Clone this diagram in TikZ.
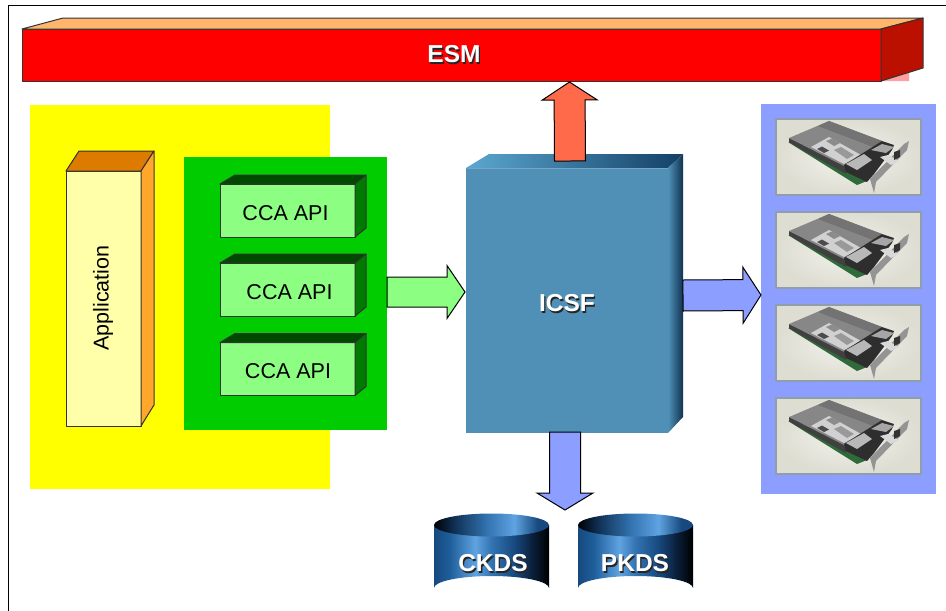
\documentclass[tikz,border=0pt]{standalone}
\usepackage{fontspec}
\setmainfont{Liberation Sans}
\usetikzlibrary{calc}
\definecolor{cdark}{HTML}{0A1E38}
\definecolor{cmid}{HTML}{1F5F9C}
\definecolor{clight}{HTML}{5FA3E0}
\definecolor{cnavy}{HTML}{17497F}
\pgfdeclarehorizontalshading{cylbody}{100bp}{color(0bp)=(cnavy);color(25bp)=(cnavy);color(32bp)=(cmid);color(43bp)=(clight);color(50bp)=(cmid!70!clight);color(60bp)=(cnavy);color(68bp)=(cdark);color(75bp)=(black);color(100bp)=(black)}
\pgfdeclarehorizontalshading{cyltop}{100bp}{color(0bp)=(black);color(25bp)=(black);color(34bp)=(cdark!70!cmid);color(48bp)=(cmid!70!clight);color(60bp)=(clight);color(70bp)=(cnavy);color(75bp)=(cnavy);color(100bp)=(cnavy)}
\definecolor{topL}{HTML}{5BA8D0}
\definecolor{topD}{HTML}{143F66}
\definecolor{icsfF}{HTML}{5090B6}
\definecolor{pureY}{HTML}{FFFF00}
\definecolor{pureR}{HTML}{FF0000}
\definecolor{pureG}{HTML}{00CC00}
\definecolor{esmT}{HTML}{FFB56B}
\definecolor{esmS}{HTML}{BB1000}
\definecolor{esmSh}{HTML}{FFA0A0}
\definecolor{appF}{HTML}{FFFFAA}
\definecolor{appT}{HTML}{DD7B00}
\definecolor{appS}{HTML}{FFA62B}
\definecolor{ccaF}{HTML}{8CFF82}
\definecolor{ccaT}{HTML}{004A00}
\definecolor{ccaS}{HTML}{007A00}
\definecolor{frameC}{HTML}{8F9EAA}
\definecolor{cardBg}{HTML}{DEDDD2}
\definecolor{cardLt}{HTML}{F3F3EE}
\definecolor{panelB}{HTML}{8C9EFF}
\definecolor{upA}{HTML}{FF6B4A}
\definecolor{grnA}{HTML}{8CFF82}
\definecolor{pcbG}{HTML}{2F6B3A}
\tikzset{
  base/.style={inner sep=0pt,outer sep=0pt,anchor=north west},
  face/.style={draw=black!80,line width=1pt,line join=round},
  ccaface/.style={base,face,fill=ccaF,minimum width=135pt,minimum height=53pt},
  ccatxt/.style={inner sep=0pt,font=\fontsize{21.5}{24}\selectfont},
  bigtxt/.style={inner sep=0pt,font=\fontsize{24.5}{28}\selectfont\bfseries},
  blockarrowline/.style={draw=black,line width=1pt,line join=miter},
  frame/.style={draw=frameC,line width=2pt},
}
% text with a soft dark shadow, one node
\newcommand{\shtext}[1]{\rlap{\kern1.3pt\raisebox{-1.3pt}{\color{black!85}#1}}{\color{white}#1}}
% block arrow between two named points: fill, half shaft, half head, head length
\newcommand{\blockarrow}[6]{%
  \coordinate (hb) at ($(#2)!#6pt!(#1)$);
  \filldraw[blockarrowline,fill=#3]
    ($(#1)!#4pt!90:(#2)$) -- ($(hb)!#4pt!90:(#2)$) -- ($(hb)!#5pt!90:(#2)$) -- (#2)
    -- ($(hb)!#5pt!-90:(#2)$) -- ($(hb)!#4pt!-90:(#2)$) -- ($(#1)!#4pt!-90:(#2)$) -- cycle;}
\newcommand{\cardimg}[3]{%
  \begin{scope}[shift={(#2,#3)}]
    \shade[inner color=cardLt,outer color=cardBg] (0,0) rectangle (145,76);
    % pcb
    \fill[pcbG] (12,23) -- (81,66) -- (91,62) -- (66,50) -- cycle;
    % cover side
    \fill[black!75] (13,19) -- (13,23.5) -- (70,55) -- (72,46) -- cycle;
    % cover top
    \fill[black!47] (13,19) -- (53,2) -- (106,22) -- (68,47) -- cycle;
    \fill[black!55] (53,2) -- (106,22) -- (97,28) -- (42,7) -- cycle;
    % label
    \fill[black!18] (35,28) -- (53,18) -- (85,36) -- (68,45) -- cycle;
    \fill[black!70] (41,30) -- (46,27.5) -- (53,31.5) -- (48,34) -- cycle;
    \fill[black!45] (50,22) -- (56,19.5) -- (64,24) -- (58,27) -- cycle;
    \fill[black!40] (58,31) -- (65,28) -- (78,36) -- (71,40) -- cycle;
    % connector block
    \fill[black!82] (68,46) -- (106,22) -- (118,26) -- (116,31) -- (98,55) -- (91,63) -- (70,53) -- cycle;
    \fill[black!28] (70,45) -- (88,35) -- (96,41) -- (81,51) -- cycle;
    \fill[black!35] (95,31) -- (106,25) -- (118,28) -- (110,34) -- cycle;
    % bracket
    \fill[black!42] (133,22) -- (128,25) -- (94,60) -- (98,74) -- (100,63) -- (131,31) -- cycle;
    \fill[black!15] (104,38) -- (112,36) -- (123,42) -- (115,46) -- cycle;
    \fill[black!80] (118,33) -- (124,31) -- (124,38) -- (118,41) -- cycle;
  \end{scope}
  \node[base,frame,minimum width=145pt,minimum height=76pt] (#1) at (#2,#3) {};}
\begin{document}
\begin{tikzpicture}[x=1pt,y=-1pt]
\useasboundingbox (0,0) rectangle (946,611);
\fill[white] (0,0) rectangle (946,611);
% slide border
\coordinate (fa) at (8,611); \coordinate (fb) at (8,5); \coordinate (fc) at (946,5);
\draw[black,line width=.8pt] (fa) -- (fb) -- (fc);

% ESM
\fill[esmSh] (881,81) -- (909,81) -- (909,72) -- cycle;
\node[base,face,fill=pureR,minimum width=859pt,minimum height=52pt] (esm) at (22,29) {};
\filldraw[face,fill=esmT] (esm.north west) -- (63,18) -- (923,18) -- (esm.north east) -- cycle;
\filldraw[face,fill=esmS] (esm.north east) -- (923,18) -- (923,68) -- (esm.south east) -- cycle;
\node[bigtxt] (esmt) at (454,55) {\shtext{ESM}};

% Panels
\node[base,fill=pureY,minimum width=300pt,minimum height=384pt] (yellowp) at (30,105) {};
\node[base,fill=pureG,minimum width=203pt,minimum height=273pt] (greenp) at (184,157) {};
\node[base,fill=panelB,minimum width=175pt,minimum height=390pt] (cardp) at (761,104) {};

% Application
\node[base,face,fill=appF,minimum width=75pt,minimum height=255pt] (app) at (66,171) {};
\filldraw[face,fill=appT] (app.north west) -- (79,151) -- (154,151) -- (app.north east) -- cycle;
\filldraw[face,fill=appS] (app.north east) -- (154,151) -- (154,405) -- (app.south east) -- cycle;
\node[ccatxt,rotate=90] (appt) at (103,298) {Application};

% CCA boxes
\foreach \n/\yy/\tx in {cca1/184/285.5,cca2/263/289.5,cca3/342.5/288}{
  \node[ccaface] (\n) at (220,\yy) {};
  \filldraw[face,fill=ccaT] (\n.north west) -- ++(15,-9) -- ++(131,0) -- (\n.north east) -- cycle;
  \filldraw[face,fill=ccaS] (\n.north east) -- ++(11,-9) -- ++(0,53) -- (\n.south east) -- cycle;
  \node[ccatxt] (\n t) at (\tx,\yy+29) {CCA API};
}

% ICSF
\node[base,fill=icsfF,minimum width=202pt,minimum height=265pt] (icsf) at (466,168) {};
\shade[left color=topL,right color=topD] (icsf.north west) -- (489,154) -- (683,154) -- (668,168) -- cycle;
\shade[left color=icsfF,right color=topD!80!black] (668,168) -- (683,154) -- (683,417) -- (668,433) -- cycle;
\draw[icsfF!80!white,line width=1pt] (467,168.5) -- (668,168.5);
\node[bigtxt] (icsft) at (567,304) {\shtext{ICSF}};

% Cards
\cardimg{c1}{776}{119}
\cardimg{c2}{776}{212}
\cardimg{c3}{776}{305}
\cardimg{c4}{776}{398}

% Cylinders
\foreach \n/\cx in {ckds/491.5,pkds/635.5}{
  \coordinate (\n c) at (\cx,525);
  \shade[shading=cylbody] (\cx-57.5,525) -- (\cx-57.5,588) arc[start angle=180,end angle=360,x radius=57.5,y radius=12] -- (\cx+57.5,525) -- cycle;
  \shade[shading=cyltop] (\n c) ellipse[x radius=57.5,y radius=11.5];
}
\node[bigtxt] (ckds) at (493,564) {\shtext{CKDS}};
\node[bigtxt] (pkds) at (635,564) {\shtext{PKDS}};

% Block arrows
\coordinate (upS) at ($(icsf.north)+(3,-7)$);
\coordinate (upE) at ($(esm.south)+(118,1)$);
\blockarrow{upS}{upE}{upA}{15.5}{27.5}{18}
\coordinate (gS) at ($(greenp.east)+(0,-1.5)$);
\coordinate (gE) at ($(icsf.west)+(-1,-8.5)$);
\blockarrow{gS}{gE}{grnA}{15}{26.5}{18}
\coordinate (bS) at ($(icsf.east)+(15,-5)$);
\coordinate (bE) at ($(cardp.west)+(0,-4)$);
\blockarrow{bS}{bE}{panelB}{15.5}{28}{18}
\coordinate (dS) at ($(icsf.south)+(-2,-1)$);
\coordinate (dE) at (565,510);
\blockarrow{dS}{dE}{panelB}{15.5}{28}{17}
\end{tikzpicture}
\end{document}
